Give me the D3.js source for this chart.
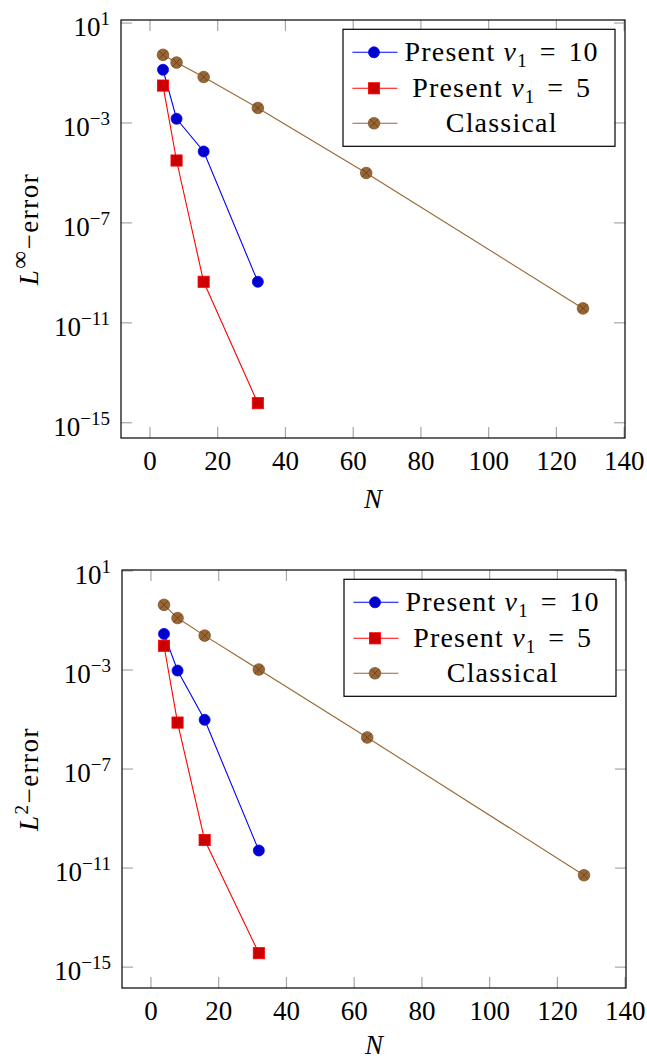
<!DOCTYPE html>
<html>
<head>
<meta charset="utf-8">
<script src="https://cdn.jsdelivr.net/npm/d3@7"></script>
<style>
  body { margin: 0; background: #fff; }
  svg { display: block; }
</style>
</head>
<body>
<svg width="647" height="1062"></svg>
<script>
// data
const nPresent = [4, 8, 16, 32];
const nClassical = [4, 8, 16, 32, 64, 128];

// L-infinity error
const linfPresent10 = [1.29e-1, 1.41e-3, 6.9e-5, 4.2e-10];
const linfPresent5 = [3.0e-2, 3.0e-5, 4.2e-10, 5.8e-15];
const linfClassical = [5.1e-1, 2.5e-1, 6.6e-2, 3.8e-3, 9.5e-6, 3.6e-11];

// L2 error
const l2Present10 = [2.75e-2, 9.1e-4, 9.3e-6, 4.9e-11];
const l2Present5 = [9.1e-3, 7.2e-6, 1.3e-10, 3.5e-15];
const l2Classical = [4.1e-1, 1.2e-1, 2.34e-2, 1.0e-3, 1.8e-6, 4.9e-12];

const xTicks = [0, 20, 40, 60, 80, 100, 120, 140];
const yTicks = [1e1, 1e-3, 1e-7, 1e-11, 1e-15];
const yTickExp = ['1', '\u22123', '\u22127', '\u221211', '\u221215'];

const legendNames = ['10', '5', 'Classical'];

const FONT = '"Liberation Serif", "Times New Roman", serif';

const svg = d3.select('svg');

const styles = [
  { line: '#0000ff', fill: '#0000cc', stroke: '#0000ff', mark: 'circle' },
  { line: '#ff0000', fill: '#cc0000', stroke: '#ff0000', mark: 'square' },
  { line: '#996633', fill: '#996633', stroke: '#80552a', mark: 'otimes' }
];

function drawMark(sel, style) {
  if (style.mark === 'circle') {
    sel.append('circle').attr('r', 5.5)
      .attr('fill', style.fill).attr('stroke', style.stroke).attr('stroke-width', 0.8);
  } else if (style.mark === 'square') {
    sel.append('rect').attr('x', -5.6).attr('y', -5.6).attr('width', 11.2).attr('height', 11.2)
      .attr('fill', style.fill).attr('stroke', style.stroke).attr('stroke-width', 0.8);
  } else {
    sel.append('circle').attr('r', 5.8)
      .attr('fill', style.fill).attr('stroke', style.stroke).attr('stroke-width', 0.8);
    const d = 4.1;
    sel.append('path').attr('d', `M${-d},${-d}L${d},${d}M${-d},${d}L${d},${-d}`)
      .attr('stroke', '#5c3d1e').attr('stroke-width', 0.8);
  }
}

function drawPanel(cfg) {
  const g = svg.append('g').attr('transform', `translate(${cfg.left},${cfg.top})`);
  const w = cfg.width, h = cfg.height;

  // pgfplots-like enlarge limits (10% each side)
  const xExt = d3.extent(nClassical);
  const xPad = (xExt[1] - xExt[0]) * 0.1;
  const x = d3.scaleLinear().domain([xExt[0] - xPad, xExt[1] + xPad]).range([0, w]);

  const allY = cfg.series.flatMap(s => s.y).map(Math.log10);
  const yExt = d3.extent(allY);
  const yPad = (yExt[1] - yExt[0]) * 0.1;
  const y = d3.scaleLog()
    .domain([Math.pow(10, yExt[0] - yPad), Math.pow(10, yExt[1] + yPad)])
    .range([h, 0]);

  // ticks on all four sides, pointing inward
  const tickStyle = a => {
    a.select('.domain').remove();
    a.selectAll('.tick line').attr('stroke', '#a6a6a6').attr('stroke-width', 1.2);
  };

  g.append('g').attr('transform', `translate(0,${h})`)
    .call(d3.axisBottom(x).tickValues(xTicks).tickSize(-11).tickPadding(13).tickFormat(d3.format('d')))
    .call(tickStyle)
    .selectAll('text').attr('fill', '#000').attr('font-family', FONT).attr('font-size', 27);

  g.append('g')
    .call(d3.axisTop(x).tickValues(xTicks).tickSize(-11).tickFormat(''))
    .call(tickStyle);

  const left = g.append('g')
    .call(d3.axisLeft(y).tickValues(yTicks).tickSize(-11).tickFormat(''))
    .call(tickStyle);

  left.selectAll('.tick').append('text')
    .attr('x', -11).attr('y', 13)
    .attr('text-anchor', 'end').attr('fill', '#000')
    .attr('font-family', FONT).attr('font-size', 27)
    .each(function (d, i) {
      const t = d3.select(this);
      t.append('tspan').text('10');
      t.append('tspan').attr('font-size', 19).attr('dy', -11).text(yTickExp[i]);
    });

  g.append('g').attr('transform', `translate(${w},0)`)
    .call(d3.axisRight(y).tickValues(yTicks).tickSize(-11).tickFormat(''))
    .call(tickStyle);

  // frame
  g.append('rect').attr('width', w).attr('height', h)
    .attr('fill', 'none').attr('stroke', '#000').attr('stroke-width', 1.2);

  // series
  const line = d3.line().x(d => x(d[0])).y(d => y(d[1]));
  cfg.series.forEach((s, i) => {
    const pts = s.x.map((v, j) => [v, s.y[j]]);
    g.append('path').datum(pts).attr('d', line)
      .attr('fill', 'none').attr('stroke', styles[i].line).attr('stroke-width', 1.1);
    g.selectAll(null).data(pts).enter().append('g')
      .attr('transform', d => `translate(${x(d[0])},${y(d[1])})`)
      .each(function () { drawMark(d3.select(this), styles[i]); });
  });

  // axis labels
  g.append('text')
    .attr('x', w / 2).attr('y', h + cfg.xLabelDy)
    .attr('text-anchor', 'middle')
    .attr('font-family', FONT).attr('font-size', 27).attr('font-style', 'italic')
    .text('N');

  const yl = g.append('text')
    .attr('transform', `translate(${38 - cfg.left},${h / 2}) rotate(-90)`)
    .attr('text-anchor', 'middle')
    .attr('font-family', FONT).attr('font-size', 27).attr('letter-spacing', 1.5);
  yl.append('tspan').attr('font-style', 'italic').text('L');
  yl.append('tspan').attr('font-size', cfg.ySupSize).attr('dy', -10).text(cfg.ySup);
  yl.append('tspan').attr('dy', 10).text('\u2212error');

  // legend
  const lw = 272, lh = 117;
  const lg = g.append('g').attr('transform', `translate(${w - 10 - lw},9.3)`);
  lg.append('rect').attr('width', lw).attr('height', lh)
    .attr('fill', '#fff').attr('stroke', '#000').attr('stroke-width', 1.2);
  const rowY = [23, 59, 94];
  legendNames.forEach((name, i) => {
    const row = lg.append('g').attr('transform', `translate(0,${rowY[i]})`);
    row.append('line').attr('x1', 9.4).attr('x2', 54.4)
      .attr('stroke', styles[i].line).attr('stroke-width', 1.1);
    drawMark(row.append('g').attr('transform', 'translate(31,0)'), styles[i]);
    const t = row.append('text').attr('x', 158.7).attr('y', 8.5)
      .attr('text-anchor', 'middle')
      .attr('font-family', FONT).attr('font-size', 28).attr('letter-spacing', 1.2);
    if (i < 2) {
      t.append('tspan').text('Present ');
      t.append('tspan').attr('font-style', 'italic').text('\u03bd');
      t.append('tspan').attr('font-size', 19).attr('dy', 6).text('1');
      t.append('tspan').attr('dy', -6).text(' \u200a=\u200a ' + name);
    } else {
      t.text(name);
    }
  });
}

drawPanel({
  left: 121, top: 20, width: 504, height: 418, ySup: '\u221e', ySupSize: 25, xLabelDy: 70,
  series: [
    { x: nPresent, y: linfPresent10 },
    { x: nPresent, y: linfPresent5 },
    { x: nClassical, y: linfClassical }
  ]
});

drawPanel({
  left: 122, top: 570, width: 504, height: 418, ySup: '2', ySupSize: 19, xLabelDy: 66,
  series: [
    { x: nPresent, y: l2Present10 },
    { x: nPresent, y: l2Present5 },
    { x: nClassical, y: l2Classical }
  ]
});
</script>
</body>
</html>
